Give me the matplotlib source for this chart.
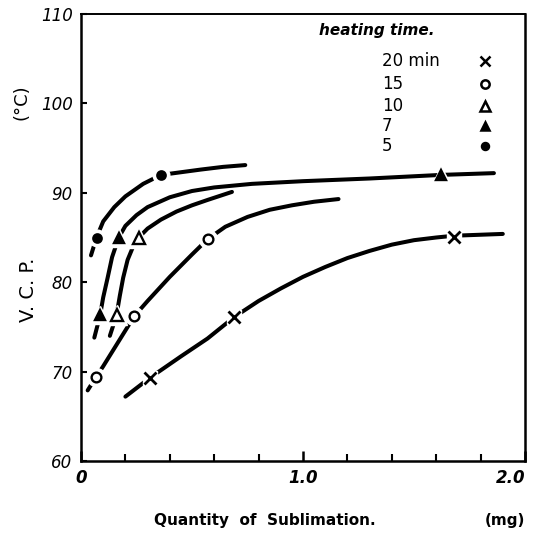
import matplotlib
matplotlib.use("Agg")
import matplotlib.pyplot as plt

# ---- data ----
heating_times = ["20 min", "15", "10", "7", "5"]

# measured points
x20 = [0.31, 0.69, 1.68]
y20 = [69.3, 76.1, 85.1]
x15 = [0.068, 0.24, 0.57]
y15 = [69.4, 76.2, 84.8]
x10 = [0.16, 0.26]
y10 = [76.3, 85.0]
x7 = [0.086, 0.17, 1.62]
y7 = [76.3, 85.0, 92.0]
x5 = [0.07, 0.36]
y5 = [85.0, 92.0]

# hand-drawn curves
cx20 = [0.20, 0.31, 0.45, 0.57, 0.69, 0.80, 0.90, 1.00, 1.10, 1.20, 1.30, 1.40, 1.50, 1.60, 1.68, 1.90]
cy20 = [67.2, 69.3, 71.7, 73.7, 76.1, 77.9, 79.3, 80.6, 81.7, 82.7, 83.5, 84.2, 84.7, 85.0, 85.2, 85.4]
cx15 = [0.03, 0.068, 0.10, 0.15, 0.20, 0.24, 0.30, 0.40, 0.50, 0.57, 0.65, 0.75, 0.85, 0.95, 1.05, 1.16]
cy15 = [67.9, 69.4, 70.6, 72.6, 74.6, 76.2, 77.9, 80.6, 83.1, 84.8, 86.2, 87.3, 88.1, 88.6, 89.0, 89.3]
cx10 = [0.13, 0.16, 0.175, 0.19, 0.21, 0.235, 0.26, 0.30, 0.36, 0.43, 0.50, 0.57, 0.68]
cy10 = [74.0, 76.3, 78.5, 80.5, 82.5, 84.0, 85.0, 86.0, 87.0, 87.9, 88.6, 89.2, 90.1]
cx7 = [0.06, 0.086, 0.10, 0.12, 0.14, 0.17, 0.20, 0.25, 0.30, 0.40, 0.50, 0.60, 0.77, 1.00, 1.30, 1.62, 1.86]
cy7 = [73.8, 76.3, 78.3, 80.5, 82.8, 85.0, 86.3, 87.5, 88.4, 89.5, 90.2, 90.6, 91.0, 91.3, 91.6, 92.0, 92.2]
cx5 = [0.045, 0.07, 0.10, 0.15, 0.20, 0.28, 0.36, 0.45, 0.54, 0.64, 0.74]
cy5 = [83.0, 85.0, 86.8, 88.4, 89.6, 91.0, 92.0, 92.3, 92.6, 92.9, 93.1]

markers = ["x", "o", "^", "^", "o"]
filled = [True, False, False, True, True]
marker_sizes = [8, 7, 8, 7, 6]

plt.rcParams['font.family'] = ['DejaVu Sans']

fig = plt.figure(figsize=(5.38, 5.47), dpi=100)
ax = fig.add_axes([81 / 538, 1 - 461 / 547, (525 - 81) / 538, (461 - 14) / 547])

series = [
    (cx20, cy20, x20, y20),
    (cx15, cy15, x15, y15),
    (cx10, cy10, x10, y10),
    (cx7, cy7, x7, y7),
    (cx5, cy5, x5, y5),
]

for i, (cx, cy, px, py) in enumerate(series):
    ax.plot(cx, cy, color="black", lw=2.9, solid_capstyle="round",
            solid_joinstyle="round", zorder=2)
    m = markers[i]
    ms = marker_sizes[i]
    if m == "x":
        ax.plot(px, py, ls="none", marker="s", ms=ms + 2, mfc="white", mec="white", zorder=3)
        ax.plot(px, py, ls="none", marker="x", ms=ms, mew=2.0, color="black", zorder=4)
    else:
        ax.plot(px, py, ls="none", marker=m, ms=ms + 6, mfc="white", mec="white", zorder=3)
        ax.plot(px, py, ls="none", marker=m, ms=ms, mew=1.7,
                mfc="black" if filled[i] else "white", mec="black", zorder=4)

ax.set_xlim(0, 2.0)
ax.set_ylim(60, 110)
ax.set_xticks([0, 1.0, 2.0])
xl = ax.set_xticklabels(["0", "1.0", "2.0"], fontsize=12, fontstyle="italic", fontweight="bold")
xl[-1].set_horizontalalignment("right")
xl[-1].set_x(2.02)
ax.set_xticks([0.2, 0.4, 0.6, 0.8, 1.2, 1.4, 1.6, 1.8], minor=True)
ax.set_yticks([60, 70, 80, 90, 100, 110])
ax.set_yticklabels(["60", "70", "80", "90", "100", "110"], fontsize=12, fontstyle="italic")
ax.tick_params(axis="x", which="major", direction="in", length=7, width=1.8, pad=6)
ax.tick_params(axis="x", which="minor", direction="in", length=5, width=1.5)
ax.tick_params(axis="y", which="major", direction="in", length=4, width=1.5, pad=6)
for s in ax.spines.values():
    s.set_linewidth(1.8)
ax.spines["top"].set_linewidth(1.4)

# legend (hand lettered in the original)
ax.text(0.535, 0.962, "heating time.", transform=ax.transAxes, fontsize=11,
        fontweight="bold", fontstyle="italic", ha="left", va="center")
leg_y = [104.7, 102.2, 99.7, 97.5, 95.2]
for i, lab in enumerate(heating_times):
    ax.text(1.355, leg_y[i], lab, fontsize=12, ha="left", va="center")
    m = markers[i]
    ms = marker_sizes[i] - 1
    if m == "x":
        ax.plot([1.82], [leg_y[i]], ls="none", marker="x", ms=ms, mew=1.8, color="black")
    else:
        ax.plot([1.82], [leg_y[i]], ls="none", marker=m, ms=ms, mew=1.8,
                mfc="black" if filled[i] else "white", mec="black")

# axis labels
fig.text(265 / 538, 1 - 520 / 547, "Quantity  of  Sublimation.", fontsize=11,
         fontweight="bold", ha="center", va="center")
fig.text(505 / 538, 1 - 520 / 547, "(mg)", fontsize=11, fontweight="bold",
         ha="center", va="center")
fig.text(28 / 538, 1 - 290 / 547, "V. C. P.", fontsize=14, rotation=90,
         ha="center", va="center")
fig.text(22 / 538, 1 - 102 / 547, "(°C)", fontsize=13, rotation=90,
         ha="center", va="center")

fig.savefig("out.png", dpi=100, facecolor="white")
